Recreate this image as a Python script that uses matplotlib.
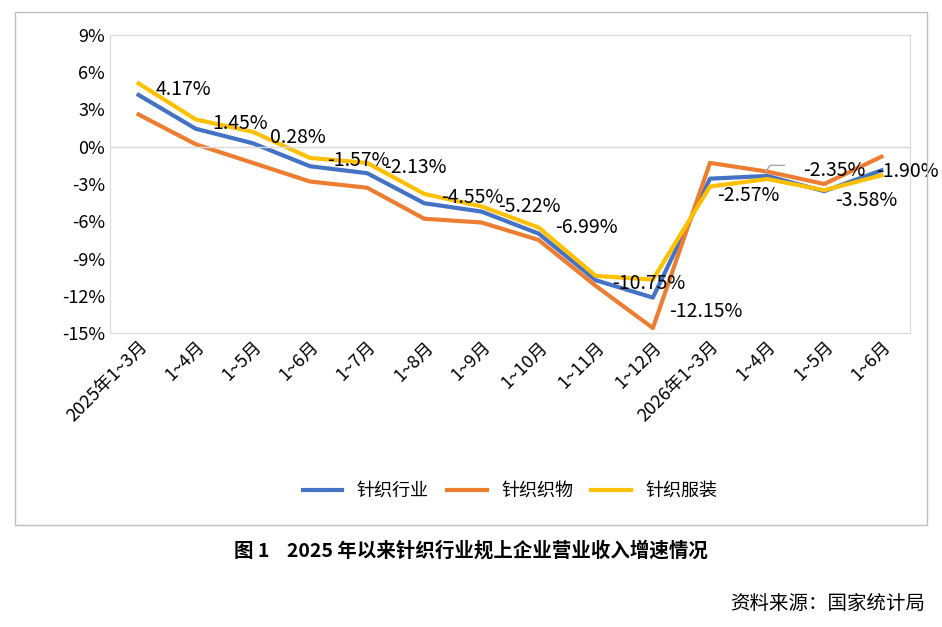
import matplotlib.pyplot as plt
from matplotlib.patches import Rectangle

plt.rcParams['font.family'] = ['Noto Sans CJK SC', 'DejaVu Sans']

months = ['2025年1~3月', '1~4月', '1~5月', '1~6月', '1~7月', '1~8月', '1~9月', '1~10月',
          '1~11月', '1~12月', '2026年1~3月', '1~4月', '1~5月', '1~6月']
hangye = [4.17, 1.45, 0.28, -1.57, -2.13, -4.55, -5.22, -6.99, -10.75, -12.15, -2.57, -2.35, -3.58, -1.90]
zhiwu = [2.6, 0.2, -1.3, -2.8, -3.3, -5.8, -6.1, -7.5, -11.2, -14.6, -1.3, -2.0, -3.0, -0.8]
fuzhuang = [5.1, 2.2, 1.2, -0.9, -1.3, -3.8, -4.8, -6.5, -10.4, -10.7, -3.2, -2.6, -3.5, -2.3]

fig = plt.figure(figsize=(9.42, 6.27), dpi=100)
fig.patches.append(Rectangle((15/942, 1-525/627), 912/942, 513/627, transform=fig.transFigure,
                             fill=False, edgecolor='#bfbfbf', lw=1))
ax = fig.add_axes([110/942, 1-333/627, 800/942, 298/627])
x = range(len(months))
ax.plot(x, hangye, color='#4472c4', lw=3, label='针织行业')
ax.plot(x, zhiwu, color='#ed7d31', lw=3, label='针织织物')
ax.plot(x, fuzhuang, color='#ffc000', lw=3, label='针织服装')

offsets = {8: (12, -2), 9: (12, -10), 10: (5, -12), 11: (26, 4), 12: (8, -7), 13: (-4, -1)}
for i, v in enumerate(hangye):
    dx, dy = offsets.get(i, (12, 4))
    ax.annotate(f'{v:.2f}%', (i, v), xytext=(dx, dy), textcoords='offset points',
                fontsize=14, va='center', ha='left')
ax.plot([10.95, 11.05, 11.3], [-2.2, -1.5, -1.5], color='#a6a6a6', lw=1)

ax.set_xlim(-0.5, 13.5)
ax.set_ylim(-15, 9)
ax.set_yticks(range(-15, 10, 3))
ax.set_yticklabels([f'{t}%' for t in range(-15, 10, 3)], fontsize=13)
ax.set_xticks(list(x))
ax.set_xticklabels(months, rotation=45, ha='right', rotation_mode='anchor', fontsize=13)
ax.tick_params(length=0)
for s in ax.spines.values():
    s.set_color('#d9d9d9')
ax.axhline(0, color='#d9d9d9', lw=1)
ax.legend(loc='center', bbox_to_anchor=(0.5, -0.53), ncol=3, frameon=False, fontsize=13,
          handlelength=2.2, columnspacing=1.0)

fig.text(471/942, 1-551/627, '图 1    2025 年以来针织行业规上企业营业收入增速情况', ha='center', va='center',
         fontsize=14, fontweight='bold')
fig.text(925/942, 1-603/627, '资料来源：国家统计局', ha='right', va='center', fontsize=14)
fig.savefig('out.png', dpi=100)
